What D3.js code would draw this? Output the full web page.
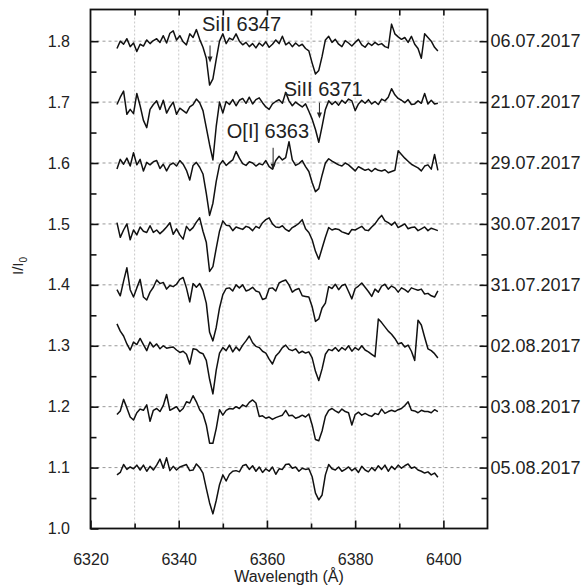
<!DOCTYPE html>
<html>
<head>
<meta charset="utf-8">
<script src="https://cdn.jsdelivr.net/npm/d3@7"></script>
<style>
  body { margin: 0; background: #fff; }
  svg { display: block; font-family: "Liberation Sans", Arial, sans-serif; }
</style>
</head>
<body>
<svg id="chart" width="584" height="588"></svg>
<script>
// wavelength grid of the spectra (Angstrom)
const wavelengths = [
  6326.00, 6326.75, 6327.50, 6328.25, 6329.00, 6329.75, 6330.50, 6331.25, 6332.00, 6332.75,
  6333.50, 6334.25, 6335.00, 6335.75, 6336.50, 6337.25, 6338.00, 6338.75, 6339.50, 6340.25,
  6341.00, 6341.75, 6342.50, 6343.25, 6344.00, 6344.75, 6345.50, 6346.25, 6347.00, 6347.75,
  6348.50, 6349.25, 6350.00, 6350.75, 6351.50, 6352.25, 6353.00, 6353.75, 6354.50, 6355.25,
  6356.00, 6356.75, 6357.50, 6358.25, 6359.00, 6359.75, 6360.50, 6361.25, 6362.00, 6362.75,
  6363.50, 6364.25, 6365.00, 6365.75, 6366.50, 6367.25, 6368.00, 6368.75, 6369.50, 6370.25,
  6371.00, 6371.75, 6372.50, 6373.25, 6374.00, 6374.75, 6375.50, 6376.25, 6377.00, 6377.75,
  6378.50, 6379.25, 6380.00, 6380.75, 6381.50, 6382.25, 6383.00, 6383.75, 6384.50, 6385.25,
  6386.00, 6386.75, 6387.50, 6388.25, 6389.00, 6389.75, 6390.50, 6391.25, 6392.00, 6392.75,
  6393.50, 6394.25, 6395.00, 6395.75, 6396.50, 6397.25, 6398.00, 6398.75
]

// I/I0 of each night, already shifted as in the figure
const spec0607 = [
  1.788,1.800,1.795,1.804,1.791,1.797,1.783,1.795,1.792,1.802,
  1.796,1.801,1.804,1.798,1.809,1.797,1.813,1.817,1.802,1.809,
  1.799,1.794,1.812,1.806,1.819,1.803,1.790,1.772,1.728,1.738,
  1.770,1.800,1.812,1.796,1.805,1.802,1.812,1.800,1.794,1.798,
  1.791,1.796,1.789,1.797,1.792,1.799,1.790,1.795,1.802,1.796,
  1.808,1.794,1.798,1.791,1.797,1.792,1.795,1.788,1.784,1.764,
  1.746,1.752,1.775,1.802,1.808,1.798,1.803,1.795,1.791,1.801,
  1.797,1.792,1.798,1.803,1.794,1.790,1.797,1.793,1.798,1.794,
  1.796,1.791,1.789,1.828,1.812,1.807,1.803,1.806,1.798,1.808,
  1.795,1.788,1.772,1.812,1.806,1.800,1.790,1.784
]
const spec2107 = [
  1.696,1.708,1.718,1.680,1.688,1.681,1.714,1.694,1.670,1.658,
  1.688,1.696,1.702,1.688,1.703,1.682,1.692,1.700,1.680,1.690,
  1.686,1.682,1.692,1.696,1.705,1.699,1.686,1.658,1.630,1.605,
  1.660,1.700,1.682,1.701,1.696,1.704,1.694,1.703,1.706,1.698,
  1.708,1.697,1.704,1.707,1.699,1.692,1.688,1.697,1.701,1.704,
  1.698,1.716,1.702,1.694,1.700,1.696,1.692,1.697,1.685,1.672,
  1.655,1.634,1.660,1.688,1.702,1.696,1.701,1.695,1.703,1.698,
  1.705,1.702,1.686,1.697,1.703,1.698,1.704,1.697,1.701,1.696,
  1.705,1.702,1.708,1.722,1.712,1.706,1.703,1.699,1.704,1.696,
  1.697,1.702,1.698,1.714,1.697,1.703,1.697,1.698
]
const spec2907 = [
  1.590,1.606,1.598,1.608,1.595,1.617,1.597,1.606,1.587,1.601,
  1.597,1.602,1.604,1.591,1.598,1.587,1.597,1.600,1.595,1.604,
  1.598,1.588,1.572,1.596,1.601,1.593,1.582,1.550,1.514,1.534,
  1.570,1.597,1.604,1.596,1.601,1.605,1.619,1.608,1.599,1.596,
  1.602,1.600,1.595,1.599,1.597,1.604,1.594,1.590,1.604,1.611,
  1.605,1.609,1.635,1.605,1.596,1.599,1.604,1.594,1.586,1.568,
  1.553,1.558,1.580,1.600,1.607,1.603,1.600,1.597,1.595,1.600,
  1.597,1.592,1.587,1.594,1.591,1.588,1.590,1.586,1.591,1.588,
  1.587,1.589,1.584,1.586,1.588,1.620,1.614,1.608,1.603,1.598,
  1.595,1.592,1.587,1.595,1.597,1.590,1.614,1.588
]
const spec3007 = [
  1.502,1.478,1.490,1.500,1.474,1.490,1.482,1.495,1.488,1.486,
  1.497,1.486,1.490,1.484,1.489,1.495,1.502,1.483,1.492,1.482,
  1.475,1.496,1.489,1.494,1.503,1.510,1.488,1.470,1.422,1.430,
  1.460,1.488,1.505,1.498,1.497,1.489,1.495,1.493,1.491,1.496,
  1.494,1.489,1.496,1.493,1.502,1.507,1.510,1.500,1.495,1.494,
  1.497,1.491,1.488,1.494,1.497,1.501,1.507,1.492,1.486,1.474,
  1.455,1.442,1.460,1.478,1.494,1.490,1.492,1.491,1.487,1.485,
  1.483,1.491,1.490,1.493,1.496,1.490,1.489,1.495,1.500,1.508,
  1.514,1.505,1.502,1.498,1.503,1.494,1.497,1.500,1.492,1.494,
  1.495,1.489,1.492,1.495,1.489,1.493,1.491,1.489
]
const spec3107 = [
  1.392,1.382,1.406,1.428,1.392,1.380,1.395,1.409,1.380,1.375,
  1.388,1.396,1.408,1.402,1.404,1.393,1.399,1.397,1.401,1.409,
  1.412,1.395,1.372,1.402,1.396,1.402,1.391,1.370,1.322,1.308,
  1.330,1.362,1.384,1.394,1.395,1.390,1.400,1.395,1.400,1.390,
  1.392,1.396,1.390,1.388,1.376,1.378,1.394,1.395,1.390,1.403,
  1.406,1.408,1.400,1.388,1.392,1.394,1.382,1.381,1.380,1.364,
  1.340,1.344,1.362,1.370,1.397,1.394,1.401,1.392,1.399,1.401,
  1.389,1.377,1.394,1.398,1.403,1.396,1.389,1.381,1.393,1.388,
  1.398,1.401,1.393,1.398,1.395,1.388,1.395,1.392,1.388,1.395,
  1.393,1.391,1.393,1.385,1.386,1.382,1.380,1.390
]
const spec0208 = [
  1.336,1.324,1.316,1.303,1.293,1.306,1.302,1.312,1.302,1.292,
  1.306,1.298,1.303,1.295,1.300,1.296,1.297,1.298,1.293,1.289,
  1.291,1.286,1.270,1.295,1.294,1.289,1.287,1.276,1.245,1.221,
  1.260,1.288,1.297,1.292,1.301,1.290,1.298,1.292,1.301,1.308,
  1.316,1.305,1.299,1.297,1.291,1.288,1.278,1.270,1.283,1.289,
  1.297,1.301,1.294,1.292,1.295,1.288,1.291,1.288,1.290,1.280,
  1.258,1.243,1.262,1.286,1.294,1.292,1.297,1.291,1.297,1.293,
  1.300,1.291,1.297,1.293,1.300,1.293,1.290,1.286,1.282,1.344,
  1.338,1.331,1.324,1.319,1.312,1.303,1.305,1.298,1.301,1.291,
  1.276,1.342,1.334,1.314,1.295,1.292,1.287,1.280
]
const spec0308 = [
  1.187,1.193,1.212,1.198,1.183,1.178,1.190,1.196,1.194,1.203,
  1.176,1.194,1.197,1.192,1.202,1.220,1.194,1.197,1.200,1.192,
  1.197,1.208,1.206,1.218,1.208,1.195,1.188,1.170,1.140,1.140,
  1.164,1.195,1.186,1.194,1.197,1.196,1.200,1.197,1.203,1.200,
  1.207,1.211,1.206,1.184,1.185,1.181,1.183,1.179,1.182,1.184,
  1.186,1.194,1.185,1.186,1.181,1.183,1.186,1.183,1.188,1.170,
  1.146,1.144,1.160,1.184,1.194,1.197,1.193,1.190,1.196,1.192,
  1.190,1.170,1.187,1.191,1.186,1.189,1.186,1.184,1.189,1.187,
  1.196,1.189,1.192,1.194,1.192,1.195,1.197,1.202,1.208,1.194,
  1.193,1.190,1.194,1.192,1.192,1.190,1.195,1.192
]
const spec0508 = [
  1.088,1.092,1.105,1.097,1.101,1.098,1.104,1.096,1.104,1.094,
  1.102,1.096,1.104,1.114,1.099,1.116,1.095,1.102,1.096,1.101,
  1.103,1.105,1.095,1.096,1.106,1.100,1.091,1.066,1.042,1.024,
  1.046,1.072,1.088,1.078,1.089,1.094,1.095,1.093,1.103,1.105,
  1.097,1.103,1.094,1.101,1.092,1.098,1.094,1.101,1.089,1.098,
  1.097,1.105,1.106,1.099,1.101,1.094,1.099,1.097,1.098,1.085,
  1.058,1.047,1.055,1.088,1.105,1.098,1.096,1.101,1.094,1.097,
  1.101,1.095,1.099,1.092,1.102,1.096,1.093,1.100,1.095,1.103,
  1.097,1.104,1.094,1.102,1.097,1.104,1.099,1.103,1.106,1.099,
  1.101,1.096,1.094,1.091,1.093,1.088,1.091,1.084
]
const spectra = [spec0607, spec2107, spec2907, spec3007, spec3107, spec0208, spec0308, spec0508]

// right axis: observing dates at their continuum level
const dates = ["06.07.2017", "21.07.2017", "29.07.2017", "30.07.2017", "31.07.2017", "02.08.2017", "03.08.2017", "05.08.2017"]
const dateLevels = [1.8, 1.7, 1.6, 1.5, 1.4, 1.3, 1.2, 1.1]

// ticks
const xLabelTicks = [6320, 6340, 6360, 6380, 6400]
const xMinorTicks = [6330, 6350, 6370, 6390]
const xGridTicks = [6330, 6340, 6350, 6360, 6370, 6380, 6390, 6400]
const yLabelTicks = [1.0, 1.1, 1.2, 1.3, 1.4, 1.5, 1.6, 1.7, 1.8]
const yMinorTicks = [1.05, 1.15, 1.25, 1.35, 1.45, 1.55, 1.65, 1.75]

// line identifications: arrow wavelength, arrow top / tip, label anchor
const lineLabels = ["SiII 6347", "SiII 6371", "O[I] 6363"]
const lineArrowWl = [6347.1, 6371.9, 6361.4]
const lineArrowTop = [1.793, 1.699, 1.625]
const lineArrowTip = [1.765, 1.673, 1.589]
const lineLabelWl = [6345.3, 6363.8, 6350.9]
const lineLabelLevel = [1.816, 1.710, 1.641]

const svg = d3.select("#chart")
const plotL = 90.5, plotR = 487.5, plotT = 9.5, plotB = 528.5

const x = d3.scaleLinear().domain([6320, 6410]).range([plotL, plotR])
const y = d3.scaleLinear().domain([1.0, 1.852]).range([plotB, plotT])

svg.append("rect").attr("width", 584).attr("height", 588).attr("fill", "#fff")

// grid
svg.append("g")
  .selectAll("line")
  .data(xGridTicks)
  .join("line")
  .attr("x1", d => x(d)).attr("x2", d => x(d))
  .attr("y1", plotT).attr("y2", plotB)
  .attr("stroke", "#c8c8c8")
  .attr("stroke-width", 1)
  .attr("stroke-dasharray", "2,2")

svg.append("g")
  .selectAll("line")
  .data(yLabelTicks.filter(d => d > 1.0))
  .join("line")
  .attr("x1", plotL).attr("x2", plotR)
  .attr("y1", d => y(d)).attr("y2", d => y(d))
  .attr("stroke", "#999")
  .attr("stroke-width", 1)
  .attr("stroke-dasharray", "3,3")

// spectra
const line = d3.line()
  .x((d, i) => x(wavelengths[i]))
  .y(d => y(d))

svg.append("g")
  .selectAll("path")
  .data(spectra)
  .join("path")
  .attr("d", d => line(d))
  .attr("fill", "none")
  .attr("stroke", "#111")
  .attr("stroke-width", 1.5)
  .attr("stroke-linejoin", "round")

// axes, all ticks pointing inward
const styleAxis = (g, size) => {
  g.select(".domain").remove()
  g.selectAll(".tick line").attr("stroke", "#111").attr("stroke-width", 1.6)
  g.selectAll(".tick text").attr("fill", "#222").attr("font-size", size)
  g.attr("font-family", null)
}

svg.append("g")
  .attr("transform", `translate(0,${plotB})`)
  .call(d3.axisBottom(x).tickValues(xLabelTicks).tickSize(-8).tickPadding(25).tickFormat(d3.format("d")))
  .call(g => styleAxis(g, 16))

svg.append("g")
  .attr("transform", `translate(0,${plotB})`)
  .call(d3.axisBottom(x).tickValues(xMinorTicks).tickSize(-5).tickFormat(""))
  .call(g => styleAxis(g, 16))

svg.append("g")
  .attr("transform", `translate(0,${plotT})`)
  .call(d3.axisTop(x).tickValues(xGridTicks).tickSize(-6).tickFormat(""))
  .call(g => styleAxis(g, 16))

svg.append("g")
  .attr("transform", `translate(${plotL},0)`)
  .call(d3.axisLeft(y).tickValues(yLabelTicks).tickSize(-8).tickPadding(20.5).tickFormat(d3.format(".1f")))
  .call(g => styleAxis(g, 16))

svg.append("g")
  .attr("transform", `translate(${plotL},0)`)
  .call(d3.axisLeft(y).tickValues(yMinorTicks).tickSize(-6).tickFormat(""))
  .call(g => styleAxis(g, 16))

svg.append("g")
  .attr("transform", `translate(${plotR},0)`)
  .call(d3.axisRight(y).tickValues(dateLevels).tickSize(-8).tickPadding(3).tickFormat((d, i) => dates[i]))
  .call(g => styleAxis(g, 18))

svg.append("g")
  .attr("transform", `translate(${plotR},0)`)
  .call(d3.axisRight(y).tickValues(yMinorTicks).tickSize(-6).tickFormat(""))
  .call(g => styleAxis(g, 18))

// frame
svg.append("rect")
  .attr("x", plotL).attr("y", plotT)
  .attr("width", plotR - plotL).attr("height", plotB - plotT)
  .attr("fill", "none")
  .attr("stroke", "#111")
  .attr("stroke-width", 1.8)

// axis titles
svg.append("text")
  .attr("x", (plotL + plotR) / 2).attr("y", 582)
  .attr("text-anchor", "middle")
  .attr("font-size", 16)
  .attr("fill", "#222")
  .text("Wavelength (Å)")

const yTitle = svg.append("text")
  .attr("transform", "translate(23,266) rotate(-90)")
  .attr("text-anchor", "middle")
  .attr("font-size", 15)
  .attr("fill", "#222")
yTitle.append("tspan").text("I/I")
yTitle.append("tspan").attr("dy", 4).attr("font-size", 10).text("0")

// line identifications
const ann = svg.append("g")
lineLabels.forEach((label, i) => {
  const ax = x(lineArrowWl[i]), y0 = y(lineArrowTop[i]), y1 = y(lineArrowTip[i])
  ann.append("line")
    .attr("x1", ax).attr("x2", ax)
    .attr("y1", y0).attr("y2", y1 - 5)
    .attr("stroke", "#222").attr("stroke-width", 1)
  ann.append("path")
    .attr("d", `M${ax - 2.5},${y1 - 6}L${ax + 2.5},${y1 - 6}L${ax},${y1}Z`)
    .attr("fill", "#222")
  ann.append("text")
    .attr("x", x(lineLabelWl[i])).attr("y", y(lineLabelLevel[i]))
    .attr("font-size", 20)
    .attr("fill", "#222")
    .text(label)
})
</script>
</body>
</html>
